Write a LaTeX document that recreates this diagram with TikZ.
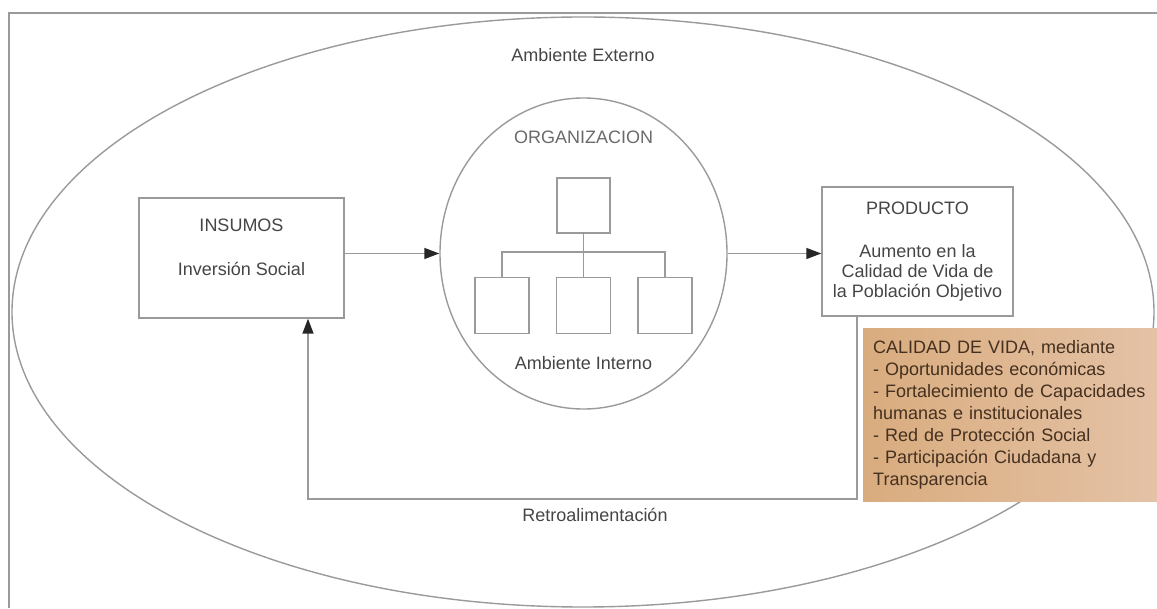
\documentclass[tikz,border=0pt]{standalone}
\usepackage{fontspec}
\setmainfont{Liberation Sans}
\usetikzlibrary{arrows.meta,positioning,shapes.geometric}
\definecolor{gris}{HTML}{9A9A9A}
\definecolor{grisTexto}{HTML}{454545}
\definecolor{ocre}{HTML}{D9AC7E}
\definecolor{ocreClaro}{HTML}{E4C2A6}
\definecolor{marron}{HTML}{45301F}
\begin{document}
\begin{tikzpicture}[x=1pt, y=1pt,
        every node/.style={font=\fontsize{18}{20}\selectfont, text=grisTexto},
        caja/.style={rectangle, draw=gris, line width=1.4pt, inner sep=0pt},
        cuadro/.style={caja, minimum width=54pt, minimum height=56pt},
        linea/.style={draw=gris, line width=1.4pt},
        flecha/.style={linea, -{Triangle[length=15pt, width=11pt, color=black!85]}}]
    \useasboundingbox (0,0) rectangle (1157,608);
    % Ambiente externo
    \draw[linea] (1157,595) -- (9,595) -- (9,0);
    \node[ellipse, draw=gris, line width=1.4pt, minimum width=1142pt, minimum height=590pt, inner sep=0pt] (externo) at (583,296) {};
    \node at (583,553) {Ambiente Externo};
    % Insumos
    \node[caja, minimum width=205pt, minimum height=120pt] (insumos) at (241.5,350) {};
    \node at (241.5,383) {INSUMOS};
    \node at (241.5,339) {Inversión Social};
    % Organizacion
    \node[ellipse, draw=gris, line width=1.4pt, minimum width=287pt, minimum height=311pt, inner sep=0pt] (org) at (583.5,354.5) {};
    \node[text=grisTexto!80] at (583.5,471) {ORGANIZACION};
    \node[cuadro, minimum width=53pt, minimum height=55pt] (jefe) at (583.5,402.5) {};
    \node[cuadro, below=43pt of jefe] (area2) {};
    \node[cuadro, left=26pt of area2] (area1) {};
    \node[cuadro, right=26pt of area2] (area3) {};
    \coordinate (bus) at (583.5,356);
    \draw[linea] (jefe.south) -- (area2.north);
    \draw[linea] (area1.north) |- (bus) -| (area3.north);
    \node at (583.5,245) {Ambiente Interno};
    % Producto
    \node[caja, minimum width=191pt, minimum height=129pt] (producto) at (917.5,356.5) {};
    \node at (917.5,400) {PRODUCTO};
    \node[align=center] at (917.5,335) {Aumento en la\\Calidad de Vida de\\la Población Objetivo};
    % Flujo
    \draw[flecha] (insumos.east |- org.west) -- (org.west);
    \draw[flecha] (org.east) -- (org.east -| producto.west);
    \coordinate (esquina) at (308,109);
    \draw[flecha] ([xshift=-60.5pt]producto.south) |- (esquina) -- (esquina |- insumos.south);
    \node at (595,93) {Retroalimentación};
    % Calidad de vida
    \node[rectangle, left color=ocre, right color=ocreClaro, minimum width=294pt, minimum height=173pt,
        text width=274pt, inner xsep=10pt, align=left, text=marron, font=\fontsize{18}{22}\selectfont,
        anchor=north west] (calidad) at (863,280) {CALIDAD DE VIDA, mediante\\- Oportunidades económicas\\- Fortalecimiento de Capacidades\\humanas e institucionales\\- Red de Protección Social\\- Participación Ciudadana y\\Transparencia};
\end{tikzpicture}
\end{document}
